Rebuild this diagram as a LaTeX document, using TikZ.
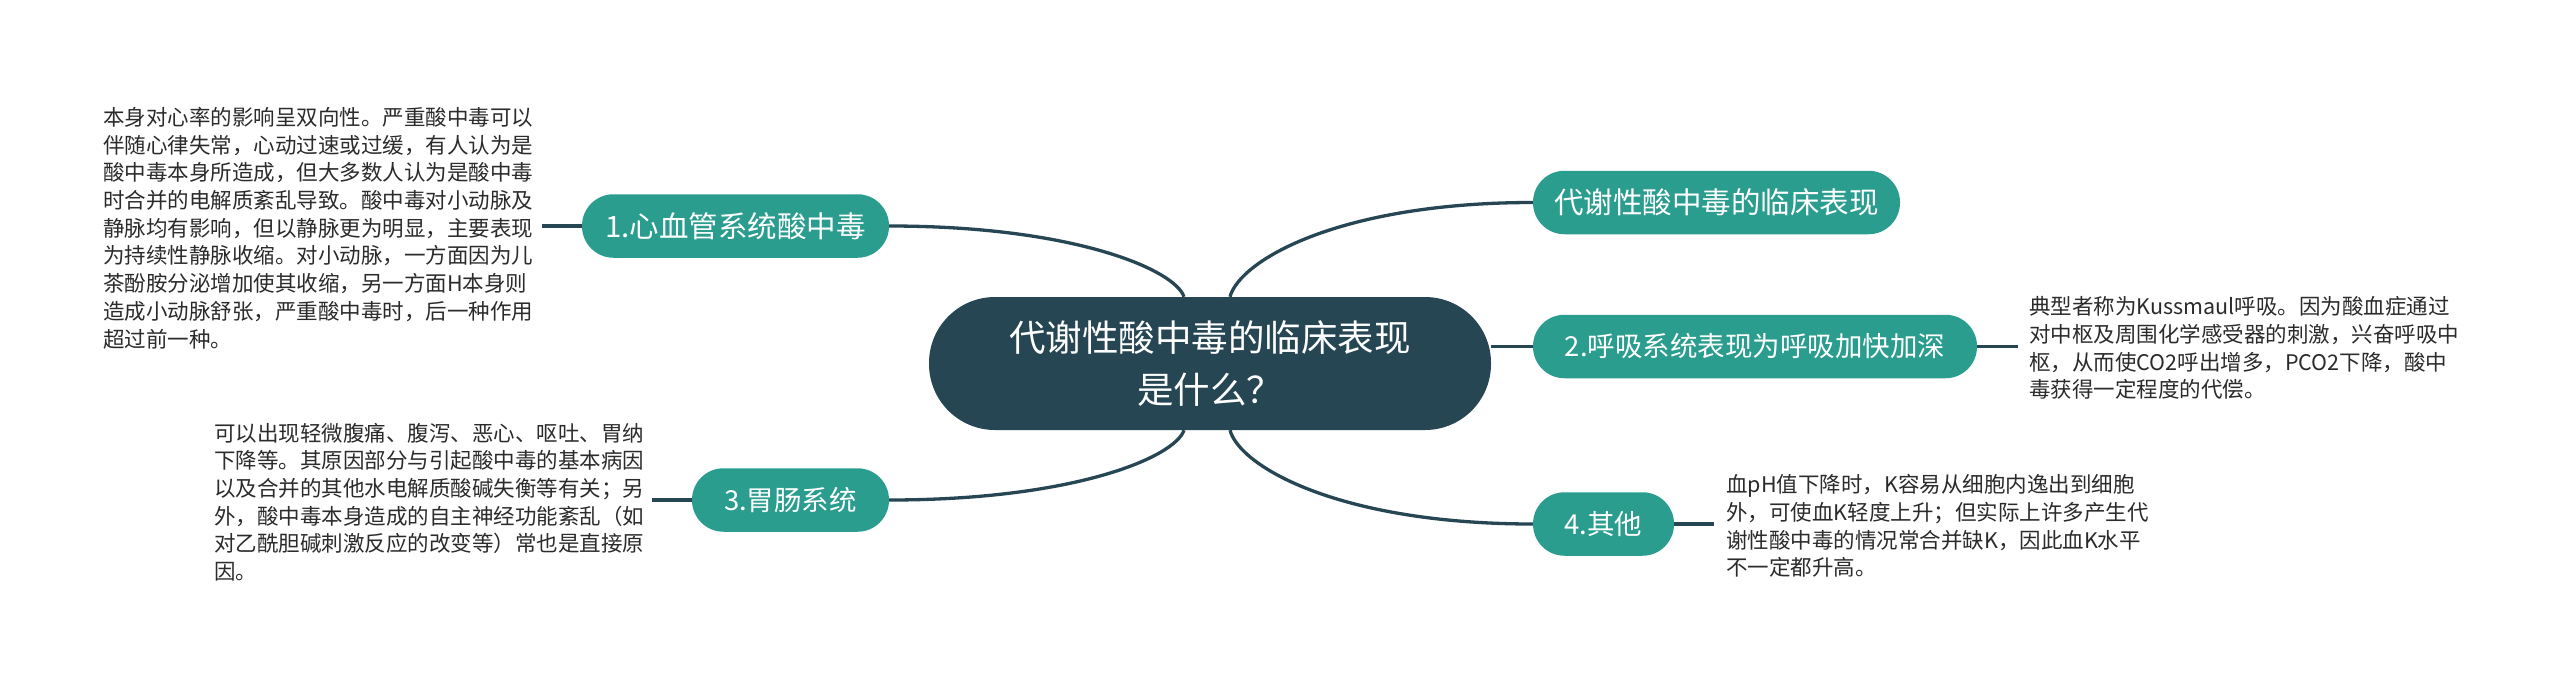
\documentclass[tikz,border=0pt]{standalone}
\usepackage{fontspec}
\setmainfont{Noto Sans CJK SC}
\definecolor{dark}{HTML}{264653}
\definecolor{teal2}{HTML}{2A9D8F}
\definecolor{txt}{HTML}{2B2B2B}
\tikzset{
  branch/.style={fill=teal2, text=white, rounded corners=31.5pt, inner sep=0pt, minimum height=63.5pt},
  rootnode/.style={fill=dark, text=white, rounded corners=66pt, inner sep=0pt, minimum height=133pt, minimum width=562pt, align=center, font=\fontsize{36.5}{52}\selectfont},
  note/.style={text=txt, align=left, inner sep=0pt, anchor=west, font=\fontsize{21.5}{27.7}\selectfont},
  link/.style={draw=dark, line width=3.3pt}
}
\begin{document}
\begin{tikzpicture}[x=1pt,y=-1pt]
\fill[white] (0,0) rectangle (2560,686);
\useasboundingbox (0,0) rectangle (2560,686);

\node[rootnode] (c) at (1210,363.5) {代谢性酸中毒的临床表现\\是什么？};

\node[branch, minimum width=367pt, font=\fontsize{29.5}{36}\selectfont] (n0) at (1716.5,202.5) {代谢性酸中毒的临床表现};
\node[branch, minimum width=307pt, font=\fontsize{29.5}{36}\selectfont] (n1) at (735.5,226) {1.心血管系统酸中毒};
\node[branch, minimum width=444pt, font=\fontsize{27.5}{33}\selectfont] (n2) at (1755,346.5) {2.呼吸系统表现为呼吸加快加深};
\node[branch, minimum width=197pt, font=\fontsize{27.5}{33}\selectfont] (n3) at (790.5,500) {3.胃肠系统};
\node[branch, minimum width=141pt, font=\fontsize{27.5}{33}\selectfont] (n4) at (1603.5,524) {4.其他};

\node[note] (t1) at (103,228) {本身对心率的影响呈双向性。严重酸中毒可以\\
伴随心律失常，心动过速或过缓，有人认为是\\
酸中毒本身所造成，但大多数人认为是酸中毒\\
时合并的电解质紊乱导致。酸中毒对小动脉及\\
静脉均有影响，但以静脉更为明显，主要表现\\
为持续性静脉收缩。对小动脉，一方面因为儿\\
茶酚胺分泌增加使其收缩，另一方面H本身则\\
造成小动脉舒张，严重酸中毒时，后一种作用\\
超过前一种。};

\node[note] (t2) at (2029,348) {典型者称为Kussmaul呼吸。因为酸血症通过\\
对中枢及周围化学感受器的刺激，兴奋呼吸中\\
枢，从而使CO2呼出增多，PCO2下降，酸中\\
毒获得一定程度的代偿。};

\node[note] (t3) at (214,502) {可以出现轻微腹痛、腹泻、恶心、呕吐、胃纳\\
下降等。其原因部分与引起酸中毒的基本病因\\
以及合并的其他水电解质酸碱失衡等有关；另\\
外，酸中毒本身造成的自主神经功能紊乱（如\\
对乙酰胆碱刺激反应的改变等）常也是直接原\\
因。};

\node[note] (t4) at (1726,526) {血pH值下降时，K容易从细胞内逸出到细胞\\
外，可使血K轻度上升；但实际上许多产生代\\
谢性酸中毒的情况常合并缺K，因此血K水平\\
不一定都升高。};

\coordinate (e1) at (542,226);
\coordinate (e2) at (2018,346.5);
\coordinate (e3) at (652,500);
\coordinate (e4) at (1714,524);

% central connectors
\draw[link] ([xshift=20pt]c.north) .. controls (1240,260) and (1340,202.5) .. (n0.west);
\draw[link] ([xshift=-26pt]c.north) .. controls (1175,270) and (1075,226) .. (n1.east);
\draw[link] (n2.west -| c.east) -- (n2.west);
\draw[link] ([xshift=20pt]c.south) .. controls (1240,467) and (1340,524) .. (n4.west);
\draw[link] ([xshift=-26pt]c.south) .. controls (1175,457) and (1075,500) .. (n3.east);

% note connectors
\draw[link] (n1.west) -- (e1);
\draw[link] (n2.east) -- (e2);
\draw[link] (n3.west) -- (e3);
\draw[link] (n4.east) -- (e4);
\end{tikzpicture}
\end{document}
